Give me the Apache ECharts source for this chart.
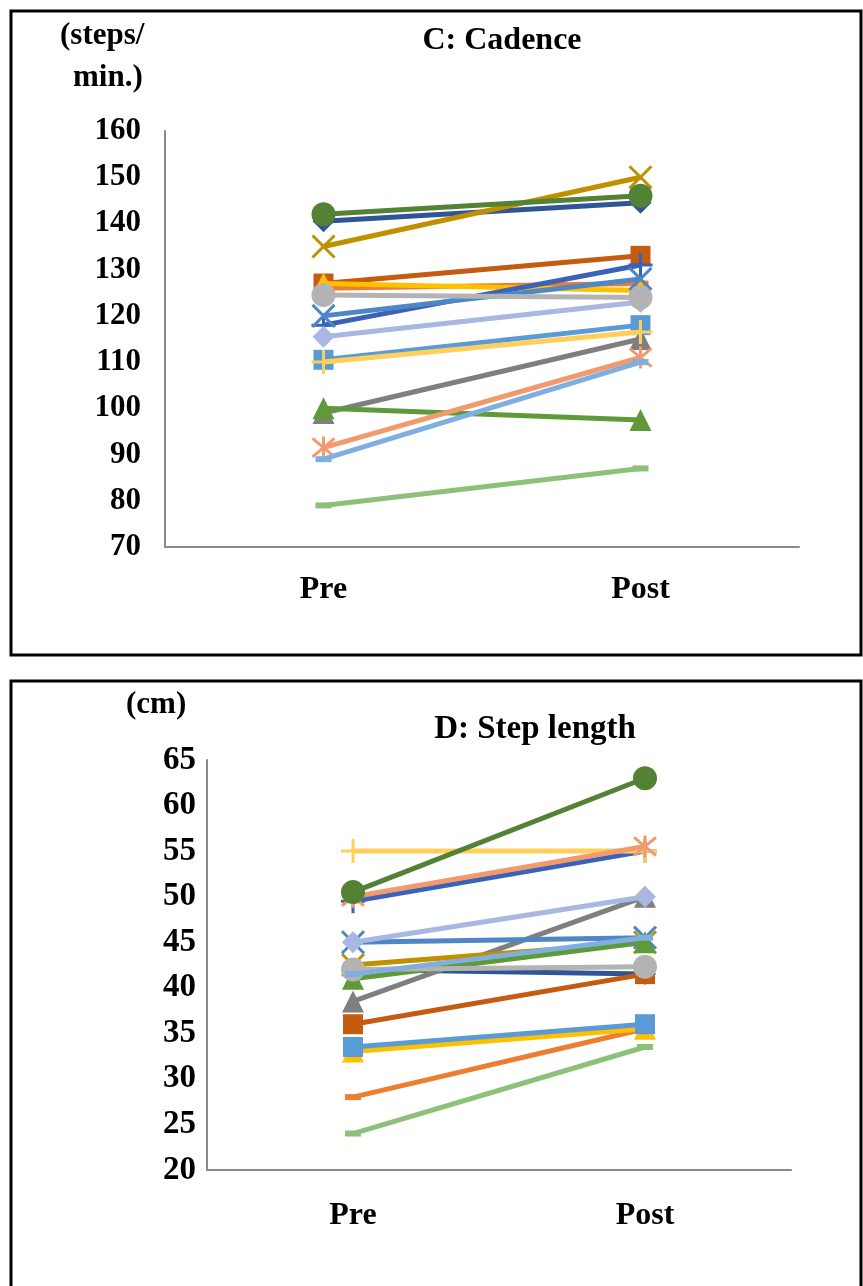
<!DOCTYPE html>
<html>
<head>
<meta charset="utf-8">
<script src="https://cdn.jsdelivr.net/npm/echarts@6/dist/echarts.min.js"></script>
<style>
  html, body { margin: 0; padding: 0; background: #fff; }
  #main { width: 863px; height: 1286px; }
</style>
</head>
<body>
<div id="main"></div>
<script>
// 横轴类别
var categories = ['Pre', 'Post'];
// 每个受试者的颜色和标记
var colors = ['#2F5597', '#C55A11', '#ED7D31', '#7F7F7F', '#FFC000', '#BF9000', '#3A62B8', '#4E86C6',
  '#A9B8E2', '#5B9BD5', '#FFCF5C', '#5E9B38', '#B3B3B3', '#F19A6E', '#7FAEE0', '#8DC17A', '#548235'];
var marks = ['diamond', 'square', 'dash', 'triangle', 'triangle', 'x', 'plus', 'x',
  'diamond', 'square', 'plus', 'triangle', 'circle', 'asterisk', 'dash', 'dash', 'circle'];
// C: Cadence (steps/min.)  [Pre, Post]
var cadence = [
  [140.5, 144.5], [127, 133], [126, 127], [99, 115], [127, 125.5], [135, 150], [118, 131], [120, 128],
  [115.5, 123], [110.5, 118], [110, 116.5], [100, 97.5], [124.5, 124], [91.5, 111], [89, 110], [79, 87], [142, 146]
];
// D: Step length (cm)  [Pre, Post]
var stepLength = [
  [42, 41.5], [36, 41.5], [28, 35.5], [38.5, 50], [33, 35.5], [42.5, 45], [49.5, 55], [45, 45.5],
  [45, 50], [33.5, 36], [55, 55], [41, 45], [42, 42.3], [50, 55.5], [41.5, 45.5], [24, 33.5], [50.5, 63]
];
// 纵轴刻度 [min, max, interval]
var cadenceTicks = [70, 160, 10];
var stepTicks = [20, 65, 5];

var symbolMap = {
  diamond: { symbol: 'diamond', size: 22, stroke: false },
  square: { symbol: 'rect', size: 20, stroke: false },
  triangle: { symbol: 'triangle', size: 22, stroke: false },
  circle: { symbol: 'circle', size: 24, stroke: false },
  dash: { symbol: 'rect', size: [16, 6], stroke: false },
  x: { symbol: 'path://M0,0L10,10M10,0L0,10', size: 22, stroke: true },
  plus: { symbol: 'path://M5,0L5,10M0,5L10,5', size: 24, stroke: true },
  asterisk: { symbol: 'path://M0,0L10,10M10,0L0,10M5,-1L5,11', size: 22, stroke: true }
};

var font = 'Liberation Serif';

function makeSeries(values, idx) {
  return values.map(function (v, i) {
    var s = symbolMap[marks[i]];
    return {
      type: 'line',
      xAxisIndex: idx,
      yAxisIndex: idx,
      data: v,
      symbol: s.symbol,
      symbolSize: s.size,
      showAllSymbol: true,
      lineStyle: { color: colors[i], width: 5 },
      itemStyle: s.stroke
        ? { color: 'rgba(0,0,0,0)', borderColor: colors[i], borderWidth: 3 }
        : { color: colors[i], borderColor: colors[i], borderWidth: 0 },
      emphasis: { disabled: true },
      z: 2 + i * 0.01
    };
  });
}

function xAxisOf(idx, margin) {
  return {
    gridIndex: idx,
    type: 'category',
    data: categories,
    boundaryGap: true,
    axisLine: { lineStyle: { color: '#8a8a8a', width: 2 } },
    axisTick: { show: false },
    axisLabel: { color: '#000', fontFamily: font, fontWeight: 'bold', fontSize: 32, margin: margin }
  };
}

function yAxisOf(idx, t, size, margin) {
  return {
    gridIndex: idx,
    type: 'value',
    min: t[0],
    max: t[1],
    interval: t[2],
    axisLine: { show: true, lineStyle: { color: '#8a8a8a', width: 2 } },
    axisTick: { show: false },
    splitLine: { show: false },
    axisLabel: { color: '#000', fontFamily: font, fontWeight: 'bold', fontSize: size, margin: margin }
  };
}

var myChart = echarts.init(document.getElementById('main'));
var option = {
  backgroundColor: '#fff',
  animation: false,
  title: [
    { text: 'C: Cadence', left: 497, top: 20, textAlign: 'center',
      textStyle: { fontFamily: font, fontWeight: 'bold', fontSize: 32, color: '#000' } },
    { text: 'D: Step length', left: 530, top: 708, textAlign: 'center',
      textStyle: { fontFamily: font, fontWeight: 'bold', fontSize: 33, color: '#000' } }
  ],
  grid: [
    { left: 165, top: 131, width: 634, height: 416 },
    { left: 207, top: 760, width: 584, height: 410 }
  ],
  xAxis: [xAxisOf(0, 27), xAxisOf(1, 30)],
  yAxis: [yAxisOf(0, cadenceTicks, 31, 24), yAxisOf(1, stepTicks, 33, 11)],
  series: makeSeries(cadence, 0).concat(makeSeries(stepLength, 1)),
  graphic: [
    { type: 'rect', shape: { x: 11, y: 11, width: 850, height: 644 },
      style: { fill: 'none', stroke: '#000', lineWidth: 3 } },
    { type: 'rect', shape: { x: 11, y: 681, width: 850, height: 700 },
      style: { fill: 'none', stroke: '#000', lineWidth: 3 } },
    { type: 'text', left: 60, top: 20,
      style: { text: '(steps/', font: 'bold 31px "Liberation Serif"', fill: '#000' } },
    { type: 'text', left: 73, top: 62,
      style: { text: 'min.)', font: 'bold 31px "Liberation Serif"', fill: '#000' } },
    { type: 'text', left: 126, top: 689,
      style: { text: '(cm)', font: 'bold 31px "Liberation Serif"', fill: '#000' } }
  ]
};
myChart.setOption(option);
</script>
</body>
</html>
